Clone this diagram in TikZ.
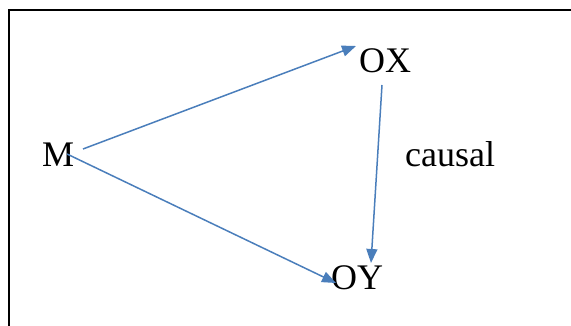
\documentclass[tikz,border=0pt]{standalone}
\usepackage{fontspec}
\setmainfont{Liberation Serif}
\usetikzlibrary{arrows.meta}
\definecolor{arrowblue}{HTML}{4A7EBB}
\begin{document}
\begin{tikzpicture}[x=1pt,y=-1pt,
  lbl/.style={inner sep=0pt, anchor=base west, font=\fontsize{36}{40}\selectfont},
  conn/.style={draw=arrowblue, line width=1.5pt, -{Triangle[length=14pt,width=11pt]}}]
\useasboundingbox (0,0) rectangle (571,326);
\draw[line width=1.8pt] (9,10) rectangle (590,345);
\node[lbl] (M) at (42,167) {M};
\node[lbl] (OX) at (359,73) {OX};
\node[lbl] (OY) at (331,289) {OY};
\node[lbl] (causal) at (405,167) {causal};
\coordinate (m1) at (83,149);
\coordinate (m2) at (67,154);
\coordinate (ox1) at (356,46);
\coordinate (ox2) at (382,85);
\coordinate (oy1) at (336,283);
\coordinate (oy2) at (371,263);
\draw[conn] (m1) -- (ox1);
\draw[conn] (m2) -- (oy1);
\draw[conn] (ox2) -- (oy2);
\end{tikzpicture}
\end{document}
